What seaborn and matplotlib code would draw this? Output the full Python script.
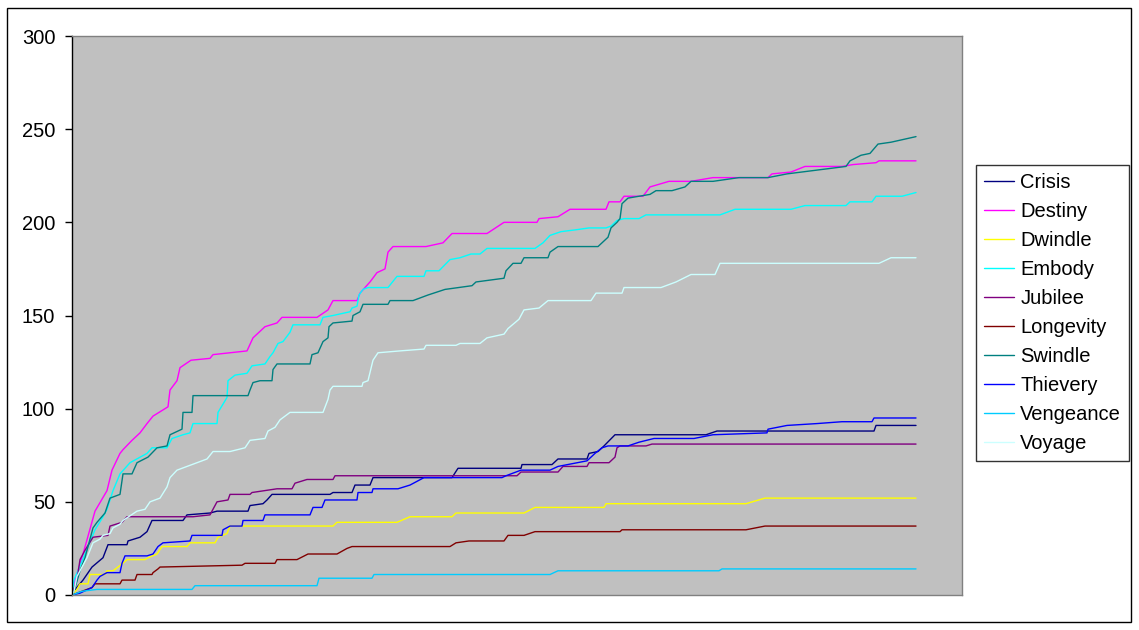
import matplotlib
matplotlib.use("Agg")
import matplotlib.pyplot as plt
import seaborn as sns
import pandas as pd
from matplotlib.patches import Rectangle

# (step, cumulative count) breakpoints
crisis = [(0,1),(11,8),(20,15),(31,20),(36,27),(55,27),(56,29),(68,31),(75,34),(80,40),(111,40),(115,43),(138,44),(145,45),(176,45),(178,48),(191,49),(195,51),(200,54),(258,54),(261,55),(280,55),(283,59),(298,59),(301,63),(380,63),(386,68),(449,68),(450,70),(480,70),(486,73),(515,73),(517,76),(526,77),(532,80),(543,86),(634,86),(645,88),(802,88),(804,91),(844,91)]
destiny = [(0,0),(2,6),(11,22),(23,45),(35,56),(40,67),(48,76),(51,78),(60,83),(68,87),(75,92),(81,96),(90,99),(96,101),(98,110),(105,115),(108,122),(119,126),(138,127),(141,129),(158,130),(175,131),(181,138),(193,144),(205,146),(210,149),(245,149),(256,153),(261,158),(285,158),(288,162),(298,168),(305,173),(313,175),(316,184),(321,187),(354,187),(371,189),(380,194),(415,194),(432,200),(465,200),(467,202),(486,203),(498,207),(534,207),(537,211),(548,211),(552,214),(571,214),(578,219),(597,222),(619,222),(630,223),(641,224),(696,224),(700,226),(719,227),(733,230),(770,230),(781,231),(804,232),(807,233),(844,233)]
dwindle = [(0,0),(5,3),(8,6),(16,6),(18,11),(33,11),(35,13),(41,13),(46,15),(53,18),(55,19),(73,19),(76,20),(85,22),(90,26),(115,26),(118,28),(143,28),(146,31),(155,33),(158,37),(261,37),(265,39),(325,39),(338,42),(380,42),(384,44),(452,44),(463,47),(532,47),(534,49),(674,49),(693,52),(844,52)]
embody = [(0,0),(2,8),(13,22),(23,35),(31,42),(35,46),(41,56),(48,65),(58,71),(75,76),(80,79),(95,79),(100,84),(111,86),(118,87),(121,92),(145,92),(146,98),(155,106),(156,115),(163,118),(175,119),(180,123),(193,124),(198,128),(201,130),(206,135),(211,136),(218,141),(221,145),(248,145),(251,149),(261,150),(278,152),(280,154),(285,155),(287,161),(291,164),(296,165),(316,165),(325,171),(352,171),(354,174),(367,174),(378,180),(388,181),(399,183),(408,183),(415,186),(463,186),(471,189),(478,193),(489,195),(504,196),(517,197),(534,197),(539,198),(545,201),(552,202),(567,202),(574,204),(648,204),(663,207),(719,207),(733,209),(774,209),(778,211),(800,211),(804,214),(830,214),(844,216)]
jubilee = [(0,0),(5,8),(8,19),(13,24),(21,31),(36,32),(38,37),(50,39),(55,42),(121,42),(138,43),(141,46),(145,50),(156,51),(158,54),(178,54),(180,55),(205,57),(220,57),(223,60),(235,62),(261,62),(263,64),(445,64),(449,66),(486,66),(491,69),(515,69),(517,71),(537,71),(543,74),(545,79),(548,80),(574,80),(580,81),(844,81)]
longevity = [(0,0),(5,1),(20,4),(23,6),(48,6),(50,8),(63,8),(65,11),(80,11),(81,12),(86,14),(88,15),(170,16),(173,17),(203,17),(205,19),(225,19),(236,22),(265,22),(275,25),(280,26),(378,26),(384,28),(397,29),(432,29),(436,32),(452,32),(463,34),(548,34),(550,35),(674,35),(693,37),(844,37)]
swindle = [(0,0),(2,2),(8,13),(13,20),(21,36),(25,39),(33,44),(38,52),(48,54),(51,65),(60,65),(65,71),(76,74),(85,79),(95,80),(98,86),(110,89),(111,98),(120,98),(121,107),(176,107),(178,110),(181,114),(188,115),(200,115),(201,121),(205,124),(238,124),(240,129),(246,130),(251,136),(256,138),(257,144),(261,146),(280,147),(281,150),(288,152),(291,156),(316,156),(318,158),(341,158),(356,161),(373,164),(400,166),(404,168),(432,170),(434,174),(441,178),(449,178),(452,181),(476,181),(478,184),(486,187),(526,187),(532,190),(536,192),(539,197),(545,200),(548,202),(550,210),(556,213),(567,214),(578,215),(584,217),(600,217),(613,219),(619,222),(641,222),(667,224),(696,224),(715,226),(774,230),(778,233),(789,236),(798,237),(806,242),(819,243),(844,246)]
thievery = [(0,0),(8,1),(20,4),(25,8),(28,10),(35,12),(48,12),(50,17),(53,21),(75,21),(81,22),(86,26),(91,28),(118,29),(120,32),(150,32),(151,35),(158,37),(170,37),(171,40),(191,40),(193,43),(238,43),(241,47),(250,47),(253,51),(285,51),(286,55),(300,55),(301,57),(326,57),(338,59),(352,63),(430,63),(434,64),(449,67),(478,67),(486,69),(515,72),(523,76),(530,79),(536,80),(556,80),(567,82),(582,84),(622,84),(641,86),(695,87),(696,89),(715,91),(745,92),(770,93),(800,93),(802,95),(844,95)]
vengeance = [(0,0),(10,2),(25,3),(120,3),(123,5),(245,5),(247,9),(300,9),(302,11),(478,11),(486,13),(647,13),(650,14),(844,14)]
voyage = [(0,0),(2,2),(5,10),(15,20),(21,28),(28,30),(31,32),(38,33),(41,36),(48,38),(51,40),(65,45),(73,46),(78,50),(88,52),(95,58),(98,63),(105,67),(115,69),(125,71),(135,73),(141,77),(158,77),(173,79),(178,83),(193,84),(196,88),(203,90),(208,94),(218,98),(251,98),(256,105),(258,110),(261,112),(290,112),(291,114),(296,115),(301,126),(306,130),(328,131),(352,132),(354,134),(384,134),(388,135),(408,135),(415,138),(432,140),(436,143),(447,148),(452,153),(467,154),(476,158),(519,158),(524,162),(550,162),(552,165),(589,165),(604,168),(619,172),(643,172),(648,178),(807,178),(819,181),(844,181)]

names = ["Crisis", "Destiny", "Dwindle", "Embody", "Jubilee",
         "Longevity", "Swindle", "Thievery", "Vengeance", "Voyage"]
series = [crisis, destiny, dwindle, embody, jubilee,
          longevity, swindle, thievery, vengeance, voyage]
colors = ["#000080", "#FF00FF", "#FFFF00", "#00FFFF", "#800080",
          "#800000", "#008080", "#0000FF", "#00CCFF", "#CCFFFF"]
y_ticks = [0, 50, 100, 150, 200, 250, 300]

rows = []
for n, s in zip(names, series):
    for x, y in s:
        rows.append({"step": x, "count": y, "name": n})
df = pd.DataFrame(rows)

sns.set_style("white")
plt.rcParams["font.family"] = ["Liberation Sans", "DejaVu Sans"]
plt.rcParams["text.color"] = "black"
plt.rcParams["ytick.color"] = "black"
plt.rcParams["ytick.labelcolor"] = "black"

fig = plt.figure(figsize=(11.39, 6.30), dpi=100)
ax = fig.add_axes([72/1139, 35/630, 890/1139, 559/630])
ax.set_facecolor("#C0C0C0")

sns.lineplot(data=df, x="step", y="count", hue="name", hue_order=names,
             palette=dict(zip(names, colors)), estimator=None, sort=True,
             linewidth=1.0, ax=ax)

ax.set_xlim(0, 890)
ax.set_ylim(0, 300)
ax.set_yticks(y_ticks)
ax.set_xticks([])
ax.set_xlabel("")
ax.set_ylabel("")
ax.tick_params(axis="y", direction="out", length=5, width=1, color="black",
               labelcolor="black", labelsize=14.5, pad=7, left=True)
for side in ["top", "right", "bottom"]:
    ax.spines[side].set_color("#808080")
    ax.spines[side].set_linewidth(1)
ax.spines["left"].set_color("black")
ax.spines["left"].set_linewidth(1)

handles, labels = ax.get_legend_handles_labels()
if ax.get_legend() is not None:
    ax.get_legend().remove()
leg = fig.legend(handles, labels, loc="center left",
                 bbox_to_anchor=(976/1139, 1 - 313/630),
                 bbox_transform=fig.transFigure,
                 frameon=True, fancybox=False, shadow=False,
                 fontsize=14.5, labelspacing=0.5, handlelength=1.5,
                 handletextpad=0.3, borderpad=0.4, borderaxespad=0)
leg.get_frame().set_edgecolor("black")
leg.get_frame().set_linewidth(1)
leg.get_frame().set_facecolor("white")
for t in leg.get_texts():
    t.set_color("black")
for line in leg.get_lines():
    line.set_linewidth(1.0)

fig.patches.append(Rectangle((7/1139, 8/630), 1124/1139, 614/630,
                             transform=fig.transFigure, fill=False,
                             edgecolor="black", linewidth=1))

fig.savefig("out.png", dpi=100, facecolor="white")
